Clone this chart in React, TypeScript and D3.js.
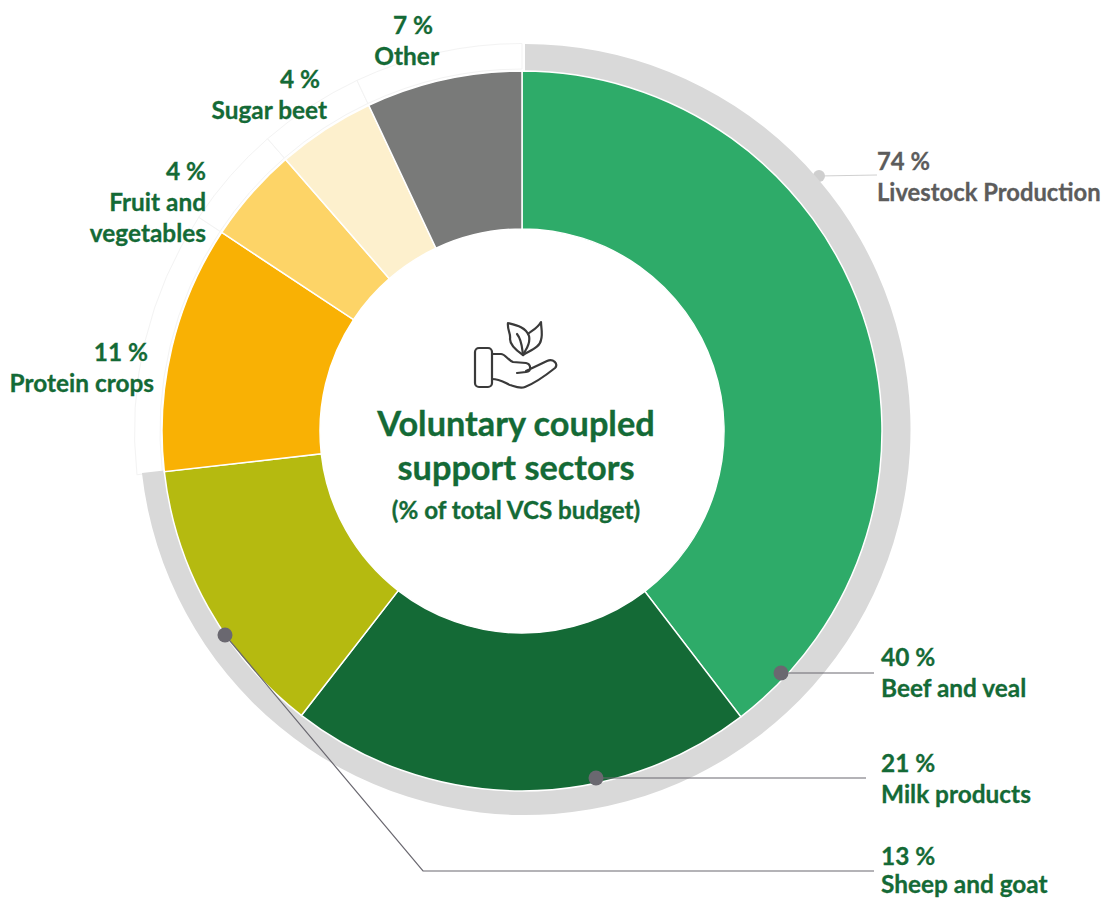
import React from "react";
import * as d3 from "d3";

const sectors = ["Beef and veal", "Milk products", "Sheep and goat", "Protein crops", "Fruit and vegetables", "Sugar beet", "Other"];
const shares = [39.6, 20.9, 12.7, 11.1, 4.3, 4.4, 7.0];
const colors = ["#2EAB69", "#146A36", "#B5BA10", "#F9B104", "#FDD467", "#FDF0CD", "#797A79"];
const livestockShare = 73.2;

const GREEN = "#146A36";
const GREY = "#5C5C5C";
const FONT = "Lato, 'Open Sans', sans-serif";
const cx = 522, cy = 431;
const rIn = 202, rOut = 360;
const ringCx = 525, ringCy = 429.5, rRing = 385.5;

const pie = d3.pie<number>().sort(null).value(d => d);
const arc = d3.arc<any>().innerRadius(rIn).outerRadius(rOut);
const slices = pie(shares);
const ringEnd = (2 * Math.PI * livestockShare) / 100;
const ring = d3.arc<any>().innerRadius(rOut - 10).outerRadius(rRing)({ startAngle: 0, endAngle: ringEnd } as any) as string;
const ghost = d3.arc<any>().innerRadius(rOut + 2).outerRadius(rRing + 2);

type L = { x: number; y: number; anchor: string; lines: string[]; color?: string; size?: number; pad?: number; step?: number };
const labels: L[] = [
  { x: 877, y: 170, anchor: "start", lines: ["74 %", "Livestock Production"], color: GREY, size: 23.8 },
  { x: 881, y: 666, anchor: "start", lines: ["40 %", "Beef and veal"] },
  { x: 881, y: 772, anchor: "start", lines: ["21 %", "Milk products"] },
  { x: 881, y: 865, anchor: "start", lines: ["13 %", "Sheep and goat"], step: 28 },
  { x: 154, y: 361, anchor: "end", lines: ["11 %", "Protein crops"], pad: 6 },
  { x: 206, y: 180, anchor: "end", lines: ["4 %", "Fruit and", "vegetables"] },
  { x: 327, y: 88, anchor: "end", lines: ["4 %", "Sugar beet"], pad: 7 },
  { x: 439, y: 34, anchor: "end", lines: ["7 %", "Other"], pad: 6 },
];

const leaders = [
  { pts: [[781, 673], [874, 673]], color: "#6A6870", dot: [781, 673], dotColor: "#6A6870", r: 7.5 },
  { pts: [[596, 778], [866, 778]], color: "#6A6870", dot: [596, 778], dotColor: "#6A6870", r: 7.5 },
  { pts: [[225, 635], [423, 871], [874, 871]], color: "#6A6870", dot: [225, 635], dotColor: "#6A6870", r: 7.5 },
];
const line = d3.line();

export default function App() {
  return (
    <svg width={1102} height={898} style={{ position: "absolute", left: 0, top: 0, background: "#fff" }} fontFamily={FONT} fontWeight={700}>
      <g transform={`translate(${cx},${cy})`}>
        {slices.slice(3).map((s, i) => (
          <path key={i} d={ghost({ startAngle: s.startAngle, endAngle: s.endAngle } as any) as string} fill="#fff" stroke="#F3F3F3" strokeWidth={1} />
        ))}
      </g>
      <path d={line([[819, 176], [877, 175]]) as string} stroke="#D0D0D0" strokeWidth={1.2} fill="none" />
      <circle cx={819} cy={176} r={6} fill="#CFCFCF" />
      <g transform={`translate(${ringCx},${ringCy})`}>
        <path d={ring} fill="#D9D9D9" />
      </g>
      <g transform={`translate(${cx},${cy})`}>
        <circle r={rOut} fill="#fff" />
        {slices.map((s, i) => (
          <path key={i} d={arc(s as any) as string} fill={colors[i]} stroke="#fff" strokeWidth={1.5} />
        ))}
      </g>
      {leaders.map((l, i) => (
        <g key={i}>
          <path d={line(l.pts as [number, number][]) as string} fill="none" stroke={l.color} strokeWidth={1.2} />
          <circle cx={l.dot[0]} cy={l.dot[1]} r={l.r} fill={l.dotColor} />
        </g>
      ))}
      {labels.map((l, i) => {
        const c = l.color ?? GREEN;
        return (
          <text key={i} x={l.x} y={l.y} textAnchor={l.anchor} fontSize={l.size ?? 24.4} fill={c} stroke={c} strokeWidth={0.3}>
            {l.lines.map((t, j) => (
              <tspan key={j} x={l.x - (j === 0 ? l.pad ?? 0 : 0)} y={l.y + j * (l.step ?? 31)}>{t}</tspan>
            ))}
          </text>
        );
      })}
      <g fill={GREEN} stroke={GREEN} strokeWidth={0.35} textAnchor="middle">
        <text x={516} y={436} fontSize={34.3}>Voluntary coupled</text>
        <text x={516} y={480} fontSize={34.3}>support sectors</text>
        <text x={516} y={519} fontSize={24.2}>(% of total VCS budget)</text>
      </g>
      <g fill="none" stroke="#3A3A3A" strokeWidth={2.2} strokeLinecap="round" strokeLinejoin="round">
        <rect x={475} y={348} width={17} height={39} rx={4} />
        <path d="M492 354 H501 C505 354 508 360 513 362 L526 363 C531 364 532 371 526 372 L517 373 M526 371 L547 361 C553 358 559 364 555 368 C545 376 535 383 525 387 C520 389 516 387 510 385 C505 383 500 379 492 379" />
        <path d="M508 323 C516 325 526 327 529 336 C531 345 525 350 523 355 C517 351 510 345 510 339 C511 333 507 330 508 323 Z" />
        <path d="M523 355 C531 350 540 347 541 340 C543 333 541 328 541 322 C537 329 531 331 528 334" />
        <path d="M517 334 C522 340 522 348 523 355" />
      </g>
    </svg>
  );
}
